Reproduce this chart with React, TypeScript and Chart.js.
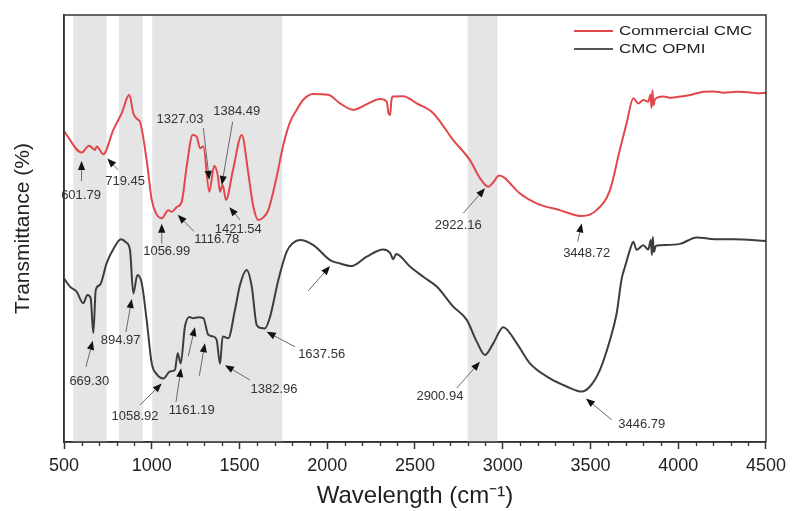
import React, { useEffect, useRef } from "react";
import { Chart, registerables } from "chart.js";

Chart.register(...registerables);

// ---- Data (wavenumber cm-1, transmittance in arbitrary %) ----
const commercialWn = [500,601,642,677,686,724,781,829,872,895,918,933,971,1000,1024,1057,1094,1114,1142,1171,1199,1233,1256,1275,1294,1328,1356,1376,1389,1404,1423,1463,1513,1550,1577,1607,1634,1664,1708,1750,1788,1826,1862,1920,2006,2073,2148,2225,2301,2339,2349,2358,2366,2373,2433,2510,2604,2718,2813,2870,2918,2944,2979,3013,3041,3098,3193,3325,3450,3535,3611,3667,3706,3744,3772,3801,3829,3842,3848,3853,3859,3868,3915,3960,4010,4060,4100,4143,4200,4260,4333,4400,4450,4500];
const commercialT = [72.8,67.8,69.4,68.4,69.2,67.4,73.1,77.0,81.3,77.0,75.6,75.0,66.0,56.7,53.6,52.4,54.3,53.9,55.0,56.3,64.5,71.9,71.5,68.8,69.2,58.6,64.7,62.5,58.6,60.2,56.7,63.7,71.9,63.0,55.5,52.0,52.5,54.3,61.4,69.6,74.9,77.8,80.1,81.5,81.3,79.3,77.8,79.1,80.3,79.7,77.0,76.6,80.1,80.9,81.0,79.3,77.0,70.7,66.0,61.8,59.8,60.7,62.4,61.8,60.6,58.2,55.9,54.3,52.9,54.3,59.0,68.4,74.7,80.5,79.3,80.1,79.7,81.3,78.2,82.4,78.9,80.3,80.9,80.6,80.9,81.2,81.6,82.0,82.1,81.8,82.0,81.9,81.7,81.8];

const opmiWn = [500,534,572,610,633,652,667,681,705,743,779,825,853,876,895,918,943,971,1000,1028,1066,1104,1132,1148,1165,1189,1214,1237,1265,1294,1322,1351,1370,1389,1404,1436,1474,1503,1541,1570,1598,1623,1645,1674,1721,1769,1805,1845,1921,2016,2073,2139,2225,2319,2358,2376,2392,2471,2547,2624,2718,2795,2852,2899,2946,3003,3080,3155,3269,3364,3450,3497,3554,3611,3649,3678,3697,3725,3744,3763,3801,3829,3844,3850,3855,3861,3872,3896,4010,4105,4209,4314,4500];
const opmiT = [38.3,36.4,35.2,32.5,34.4,33.7,25.5,35.6,36.8,41.9,45.0,47.5,46.8,45.0,34.8,39.1,37.2,28.6,18.4,15.9,14.9,16.5,16.9,20.8,18.4,27.0,29.3,29.0,29.2,29.0,25.1,24.7,23.9,18.3,24.7,24.3,30.9,36.8,40.3,36.4,27.4,26.7,26.6,29.3,37.9,44.6,46.6,47.3,46.1,42.6,41.8,41.2,43.4,45.1,44.3,42.8,44.0,41.1,38.7,36.4,31.7,28.6,23.5,20.4,23.1,26.9,23.1,18.4,14.9,13.0,11.8,13.0,16.9,23.9,30.1,38.3,41.1,45.0,46.9,45.0,46.1,45.1,47.3,43.8,48.0,44.5,45.9,46.1,46.4,47.9,47.5,47.5,47.1];

const seriesNames = ["Commercial CMC", "CMC OPMI"];

// shaded spectral regions [from, to] in cm-1
const bandStarts = [553, 813, 1003, 2800];
const bandEnds = [743, 948, 1744, 2970];

const xTickValues = [500, 1000, 1500, 2000, 2500, 3000, 3500, 4000, 4500];

// peak annotations: label text, label position, arrow tail -> head (data coords)
const peakLabels = ["601.79","719.45","1327.03","1384.49","1421.54","1116.78","1056.99","2922.16","3448.72","669.30","894.97","1058.92","1161.19","","","1382.96","1637.56","","2900.94","3446.79"];
const labelWn = [597,848,1161,1484,1493,1370,1085,2747,3478,644,823,905,1228,0,0,1697,1968,0,2642,3792];
const labelT = [57.8,61.1,75.6,77.4,49.8,47.5,44.6,50.8,44.2,14.1,23.9,5.9,7.3,0,0,12.2,20.4,0,10.6,4.0];
const tailWn = [600,809,1294,1461,1503,1241,1057,2775,3427,625,853,933,1138,1208,1271,1560,1816,1892,2738,3621];
const tailT = [61.1,63.7,73.5,75.0,52.0,49.3,46.5,53.6,46.9,17.6,25.8,8.7,9.4,20.1,15.5,14.5,22.3,35.4,12.6,5.2];
const headWn = [600,747,1328,1399,1442,1148,1057,2899,3450,664,886,1057,1167,1246,1303,1417,1655,2016,2870,3474];
const headT = [65.8,66.4,61.4,60.2,55.0,53.2,51.1,59.4,51.2,23.7,33.5,13.7,17.3,26.9,23.1,18.0,25.8,41.2,18.8,10.2];

const RED = "#e2474b";
const DARK = "#3d3d3d";
const FONT = "'Liberation Sans', Arial, sans-serif";

function drawArrow(ctx: CanvasRenderingContext2D, x1: number, y1: number, x2: number, y2: number) {
  const ang = Math.atan2(y2 - y1, x2 - x1);
  const hl = 9, hw = 3.6;
  const c = Math.cos(ang), s = Math.sin(ang);
  const bx = x2 - hl * c, by = y2 - hl * s;
  ctx.strokeStyle = "#6a6a6a";
  ctx.lineWidth = 1;
  ctx.beginPath();
  ctx.moveTo(x1, y1);
  ctx.lineTo(bx, by);
  ctx.stroke();
  ctx.fillStyle = "#111";
  ctx.beginPath();
  ctx.moveTo(x2, y2);
  ctx.lineTo(bx + hw * s, by - hw * c);
  ctx.lineTo(bx - hw * s, by + hw * c);
  ctx.closePath();
  ctx.fill();
}

const overlayPlugin = {
  id: "overlay",
  beforeDatasetsDraw(chart: any) {
    const { ctx, chartArea } = chart;
    const xs = chart.scales.x;
    ctx.save();
    ctx.fillStyle = "#e5e5e5";
    for (let i = 0; i < bandStarts.length; i++) {
      const a = xs.getPixelForValue(bandStarts[i]);
      const b = xs.getPixelForValue(bandEnds[i]);
      ctx.fillRect(a, chartArea.top + 1, b - a, chartArea.bottom - chartArea.top - 1);
    }
    ctx.restore();
  },
  afterDatasetsDraw(chart: any) {
    const { ctx, chartArea } = chart;
    const xs = chart.scales.x;
    const ys = chart.scales.y;
    ctx.save();
    // frame
    ctx.strokeStyle = "#333";
    ctx.lineWidth = 1.5;
    ctx.strokeRect(chartArea.left, chartArea.top, chartArea.right - chartArea.left, chartArea.bottom - chartArea.top);
    // minor ticks
    ctx.lineWidth = 1.3;
    ctx.strokeStyle = "#333";
    for (let v = 600; v < 4500; v += 100) {
      if (v % 500 === 0) continue;
      const px = Math.round(xs.getPixelForValue(v)) + 0.5;
      ctx.beginPath();
      ctx.moveTo(px, chartArea.bottom);
      ctx.lineTo(px, chartArea.bottom + 4);
      ctx.stroke();
    }
    // arrows + labels
    ctx.font = `13px ${FONT}`;
    ctx.textAlign = "center";
    ctx.textBaseline = "middle";
    for (let i = 0; i < tailWn.length; i++) {
      drawArrow(ctx, xs.getPixelForValue(tailWn[i]), ys.getPixelForValue(tailT[i]), xs.getPixelForValue(headWn[i]), ys.getPixelForValue(headT[i]));
    }
    ctx.fillStyle = "#333";
    for (let i = 0; i < peakLabels.length; i++) {
      if (!peakLabels[i]) continue;
      ctx.fillText(peakLabels[i], xs.getPixelForValue(labelWn[i]), ys.getPixelForValue(labelT[i]));
    }
    // legend
    const colors = [RED, "#555"];
    const lx0 = chartArea.right - 192;
    const ly0 = chartArea.top + 16;
    ctx.textAlign = "left";
    ctx.font = `13px ${FONT}`;
    for (let i = 0; i < seriesNames.length; i++) {
      const ly = ly0 + i * 18;
      ctx.strokeStyle = colors[i];
      ctx.lineWidth = 2;
      ctx.beginPath();
      ctx.moveTo(lx0, ly);
      ctx.lineTo(lx0 + 39, ly);
      ctx.stroke();
      ctx.save();
      ctx.translate(lx0 + 45, ly);
      ctx.scale(1.3, 1);
      ctx.fillStyle = "#222";
      ctx.fillText(seriesNames[i], 0, 0);
      ctx.restore();
    }
    ctx.restore();
  },
};

export default function App() {
  const ref = useRef<HTMLCanvasElement | null>(null);
  useEffect(() => {
    document.body.style.margin = "0";
    const canvas = ref.current;
    if (!canvas) return;
    const chart = new Chart(canvas, {
      type: "line",
      data: {
        datasets: [
          {
            label: seriesNames[0],
            data: commercialWn.map((x, i) => ({ x, y: commercialT[i] })),
            borderColor: RED,
            borderWidth: 2,
            pointRadius: 0,
            cubicInterpolationMode: "monotone",
            fill: false,
          },
          {
            label: seriesNames[1],
            data: opmiWn.map((x, i) => ({ x, y: opmiT[i] })),
            borderColor: DARK,
            borderWidth: 2,
            pointRadius: 0,
            cubicInterpolationMode: "monotone",
            fill: false,
          },
        ],
      },
      options: {
        responsive: false,
        animation: false,
        devicePixelRatio: 1,
        layout: { padding: { top: 15, right: 26, left: 0, bottom: 0 } },
        plugins: { legend: { display: false }, tooltip: { enabled: false } },
        scales: {
          x: {
            type: "linear",
            min: 500,
            max: 4500,
            afterBuildTicks: (scale: any) => {
              scale.ticks = xTickValues.map((v) => ({ value: v }));
            },
            afterFit: (scale: any) => {
              scale.height = 69;
            },
            ticks: {
              autoSkip: false,
              maxRotation: 0,
              font: { size: 18, family: FONT },
              color: "#222",
              padding: 6,
              callback: (v: any) => String(v),
            },
            grid: {
              display: true,
              drawOnChartArea: false,
              drawTicks: true,
              tickLength: 7,
              tickColor: "#333",
              tickWidth: 1.5,
            },
            border: { display: true, color: "#333", width: 1.5 },
            title: {
              display: true,
              text: "Wavelength (cm⁻¹)",
              font: { size: 24, family: FONT },
              color: "#222",
              padding: { top: 0, bottom: 0 },
            },
          },
          y: {
            type: "linear",
            min: 0,
            max: 100,
            afterFit: (scale: any) => {
              scale.width = 64;
            },
            ticks: { display: false },
            grid: { display: false },
            border: { display: true, color: "#333", width: 1.5 },
            title: {
              display: true,
              text: "Transmittance (%)",
              font: { size: 21, family: FONT },
              color: "#222",
              padding: { top: 11, bottom: 0 },
            },
          },
        },
      },
      plugins: [overlayPlugin],
    } as any);
    return () => chart.destroy();
  }, []);
  return (
    <div style={{ width: 792, height: 511 }}>
      <canvas ref={ref} width={792} height={511} style={{ display: "block" }} />
    </div>
  );
}
